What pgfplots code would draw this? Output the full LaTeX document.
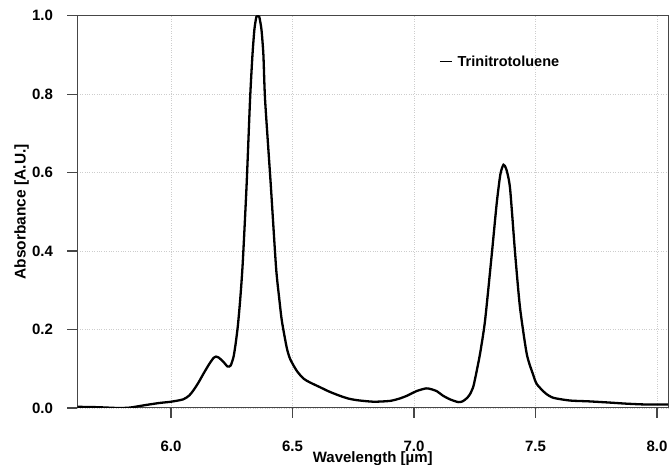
\documentclass[border=0pt]{standalone}
\usepackage{fontspec}
\setmainfont{Liberation Sans}
\usepackage{pgfplots}
\pgfplotsset{compat=1.18}
\definecolor{axgray}{RGB}{70,70,70}
\definecolor{gridgray}{RGB}{205,205,205}
\begin{document}
\begin{tikzpicture}
\begin{axis}[
  scale only axis,
  width=590.5pt, height=392.3pt,
  xmin=5.615, xmax=8.045,
  ymin=0, ymax=1.0,
  xtick={6.0,6.5,7.0,7.5,8.0},
  ytick={0,0.2,0.4,0.6,0.8,1.0},
  xtick pos=left, ytick pos=left,
  tick align=outside,
  major tick length=10pt,
  tick style={axgray, line width=1.2pt},
  axis line style={axgray, line width=1pt},
  xmajorgrids, ymajorgrids,
  major grid style={gridgray, dotted, line width=0.8pt},
  /pgf/number format/.cd, fixed, fixed zerofill, precision=1, assume math mode=true,
  /pgfplots/.cd,
  ticklabel style={font=\fontsize{15}{18}\selectfont\bfseries},
  xticklabel style={anchor=base, yshift=-33.7pt, inner sep=1pt},
  yticklabel style={anchor=east, xshift=-11pt},
  xlabel={Wavelength [\textmu m]},
  ylabel={Absorbance [A.U.]},
  every axis x label/.style={at={(axis description cs:0.5,-0.138)}, anchor=base, inner sep=0.5pt, font=\fontsize{15}{18}\selectfont\bfseries},
  every axis y label/.style={at={(axis description cs:-0.088,0.5)}, rotate=90, anchor=base, font=\fontsize{15.5}{18}\selectfont\bfseries},
  legend style={at={(axis description cs:0.612,0.883)}, anchor=west, draw=none, fill=none, inner sep=0pt,
    column sep=3pt, font=\fontsize{14.5}{17}\selectfont\bfseries},
  legend image code/.code={\draw[line width=1.6pt] (0pt,0pt) -- (12pt,0pt);},
]
\addplot[black, line width=2.3pt, smooth, tension=0.4] coordinates {
(5.615,0.003) (5.70,0.002) (5.78,0.000) (5.83,0.001) (5.90,0.008) (5.955,0.013)
(6.00,0.016) (6.05,0.022) (6.075,0.032) (6.092,0.045) (6.113,0.065) (6.133,0.087)
(6.155,0.110) (6.174,0.127) (6.185,0.131) (6.195,0.129) (6.215,0.118) (6.232,0.106)
(6.245,0.108) (6.257,0.130) (6.266,0.165) (6.275,0.21) (6.285,0.28) (6.295,0.37)
(6.311,0.57) (6.325,0.785) (6.335,0.90) (6.343,0.965) (6.351,0.997) (6.357,1.0)
(6.363,0.997) (6.372,0.965) (6.380,0.90) (6.387,0.785) (6.41,0.572) (6.432,0.359)
(6.445,0.28) (6.456,0.222) (6.476,0.154) (6.49,0.125) (6.517,0.095) (6.545,0.075)
(6.572,0.065) (6.613,0.053) (6.65,0.042) (6.695,0.031) (6.73,0.024) (6.764,0.020)
(6.833,0.016) (6.90,0.018) (6.94,0.024) (6.97,0.031) (7.01,0.043) (7.049,0.050)
(7.07,0.048) (7.093,0.043) (7.12,0.031) (7.148,0.022) (7.182,0.015) (7.20,0.017)
(7.217,0.025) (7.23,0.035) (7.244,0.055) (7.258,0.095) (7.272,0.14) (7.292,0.222)
(7.32,0.393) (7.34,0.521) (7.355,0.595) (7.368,0.620) (7.38,0.608) (7.395,0.56)
(7.416,0.393) (7.436,0.256) (7.464,0.137) (7.49,0.085) (7.505,0.061) (7.54,0.038)
(7.573,0.026) (7.642,0.019) (7.717,0.017) (7.80,0.014) (7.875,0.011) (7.95,0.009)
(8.045,0.009)
};
\addlegendentry{Trinitrotoluene}
\end{axis}
\pgfresetboundingbox
\path (current axis.south west) ++(-77.5pt,-57pt) rectangle ([xshift=2pt,yshift=15.7pt]current axis.north east);
\end{tikzpicture}
\end{document}
